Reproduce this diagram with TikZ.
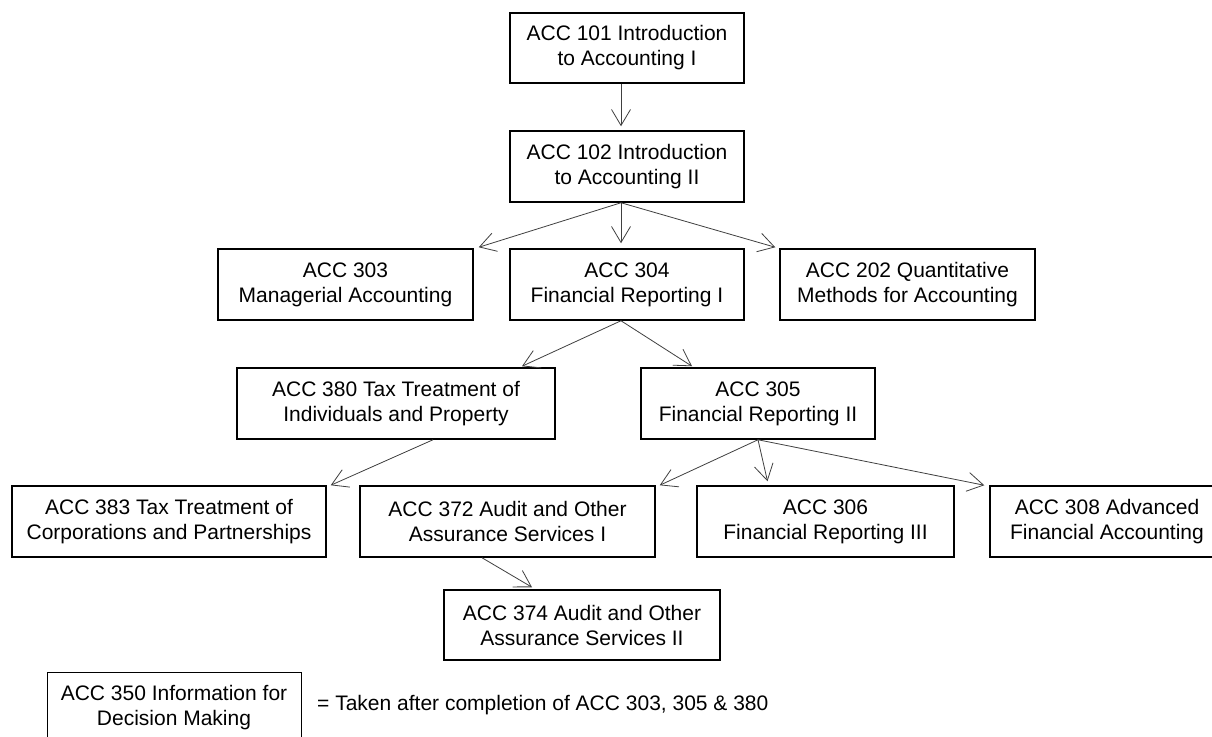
\documentclass[tikz,border=0pt]{standalone}
\usepackage{fontspec}
\setmainfont{Liberation Sans}
\usetikzlibrary{arrows.meta,calc}
\begin{document}
\begin{tikzpicture}[x=1pt,y=-1pt,
  course/.style={draw=black, line width=1.5pt, fill=white, inner sep=0pt, align=center,
    font=\fontsize{21}{25}\selectfont, minimum height=71pt},
  link/.style={draw=black!75, line width=0.8pt, -{Straight Barb[length=16pt,width=19pt,line width=0.8pt]}},
  note/.style={inner sep=0pt, anchor=west, font=\fontsize{21}{25}\selectfont}]
\useasboundingbox (0,0) rectangle (1212,736);
\clip (0,0) rectangle (1212,736);
\fill[white] (0,0) rectangle (1212,736);

\node[course, minimum width=234pt, minimum height=70pt] (n101) at (627,48) {ACC 101 Introduction\\to Accounting I};
\node[course, minimum width=234pt] (n102) at (627,166.5) {ACC 102 Introduction\\to Accounting II};
\node[course, minimum width=255pt] (n303) at (345.5,284.5) {ACC 303\\Managerial Accounting};
\node[course, minimum width=234pt] (n304) at (627,284.5) {ACC 304\\Financial Reporting I};
\node[course, minimum width=255pt] (n202) at (907.5,284.5) {ACC 202 Quantitative\\Methods for Accounting};
\node[course, minimum width=318pt] (n380) at (396,403.5) {ACC 380 Tax Treatment of\\Individuals and Property};
\node[course, minimum width=234pt] (n305) at (758,403.5) {ACC 305\\Financial Reporting II};
\node[course, minimum width=314pt] (n383) at (169,521.5) {ACC 383 Tax Treatment of\\Corporations and Partnerships};
\node[course, minimum width=295pt] (n372) at (507.5,521.5) {ACC 372 Audit and Other\\Assurance Services I};
\node[course, minimum width=257pt] (n306) at (825.5,521.5) {ACC 306\\Financial Reporting III};
\node[course, minimum width=234pt] (n308) at (1107,521.5) {ACC 308 Advanced\\Financial Accounting};
\node[course, minimum width=276pt, minimum height=70pt] (n374) at (582,625) {ACC 374 Audit and Other\\Assurance Services II};
\node[course, minimum width=254pt, line width=1pt] (n350) at (174,707.5) {ACC 350 Information for\\Decision Making};
\node[note] (txt) at (317,705) {= Taken after completion of ACC 303, 305 \& 380};

\draw[link] ($(n101.south)+(-6,0)$) -- ($(n102.north)+(-6,-4)$);
\draw[link] ($(n102.south)+(-6,0)$) -- ($(n303.north east)+(5,-1)$);
\draw[link] ($(n102.south)+(-6,0)$) -- ($(n304.north)+(-6,-5)$);
\draw[link] ($(n102.south)+(-6,0)$) -- ($(n202.north west)+(-4,-1)$);
\draw[link] ($(n304.south)+(-6,0)$) -- ($(n380.north)+(126,-1)$);
\draw[link] ($(n304.south)+(-6,0)$) -- ($(n305.north)+(-66,-1)$);
\draw[link] ($(n380.south)+(37,0)$) -- ($(n383.north east)+(4,0)$);
\draw[link] (n305.south) -- ($(n372.north east)+(4,0)$);
\draw[link] (n305.south) -- ($(n306.north)+(-58,-4)$);
\draw[link] (n305.south) -- ($(n308.north west)+(-5,0)$);
\draw[link] ($(n372.south)+(-25.5,0)$) -- ($(n374.north)+(-50,-2)$);
\end{tikzpicture}
\end{document}
